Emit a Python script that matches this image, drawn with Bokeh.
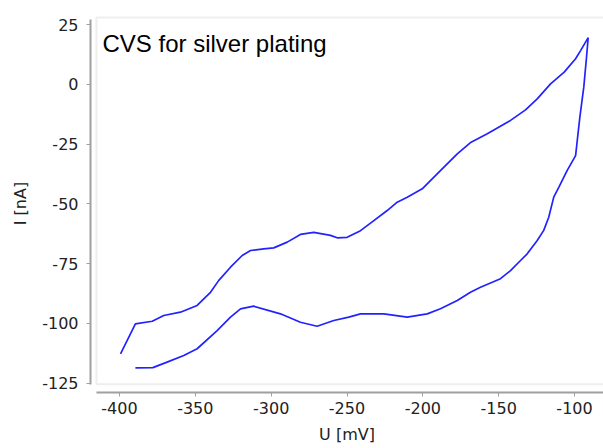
from bokeh.plotting import figure
from bokeh.models import Range1d, FixedTicker, Label, BoxAnnotation, PrintfTickFormatter
from bokeh.embed import file_html
from bokeh.resources import INLINE

# Cyclic voltammogram: forward (cathodic, lower) branch up to the vertex,
# then the return (upper) branch back to the start potential.
u_forward = [-389.5, -378.0, -368.6, -357.6, -348.8, -335.6, -326.8, -320.2,
             -311.5, -293.9, -280.7, -269.7, -258.7, -248.8, -241.1, -225.7,
             -210.3, -197.1, -188.4, -177.3, -168.6, -162.0, -148.8, -142.2,
             -135.6, -131.2, -124.6, -120.3, -117.0, -113.7, -110.3, -104.9,
             -99.3, -98.2, -96.5, -93.9, -92.1, -91.0]
i_forward = [-118.6, -118.5, -116.2, -113.4, -110.6, -103.0, -97.4, -93.9,
             -92.8, -96.0, -99.5, -101.2, -98.8, -97.4, -96.0, -96.0,
             -97.4, -96.0, -93.9, -90.4, -87.0, -84.9, -81.3, -77.9,
             -73.7, -70.9, -65.3, -61.1, -55.6, -47.2, -43.0, -36.1,
             -29.8, -23.5, -13.8, -1.2, 11.3, 19.5]

u_return = [-96.0, -99.3, -106.8, -115.8, -124.6, -132.3, -142.2, -157.5,
            -168.2, -177.3, -188.4, -200.4, -210.3, -216.9, -223.5, -232.3,
            -241.1, -249.9, -256.5, -260.9, -271.9, -280.7, -289.4, -298.3,
            -304.9, -313.6, -319.1, -326.8, -334.5, -340.0, -348.8, -359.8,
            -370.8, -378.4, -389.5, -399.3]
i_return = [14.1, 10.7, 5.1, 0.2, -6.1, -10.7, -15.1, -20.7,
            -24.2, -29.1, -36.1, -43.7, -47.2, -49.3, -52.8, -57.0,
            -61.2, -64.0, -64.2, -63.2, -61.9, -62.8, -66.0, -68.4,
            -68.8, -69.5, -71.6, -76.5, -82.0, -87.0, -92.5, -95.3,
            -96.7, -99.1, -100.2, -112.7]

x_ticks = [-400, -350, -300, -250, -200, -150, -100]
y_ticks = [-125, -100, -75, -50, -25, 0, 25]

title_text = "CVS for silver plating"
x_label = "U [mV]"
y_label = "I [nA]"

u_all = u_forward + u_return
i_all = i_forward + i_return

p = figure(width=603, height=448,
           x_range=Range1d(-419.1, -80.9), y_range=Range1d(-128.9, 29.2),
           output_backend="svg", toolbar_location=None,
           min_border_left=90, min_border_right=0,
           min_border_top=14, min_border_bottom=56)
p.outline_line_color = None
p.xgrid.visible = False
p.ygrid.visible = False
p.background_fill_color = "white"
p.border_fill_color = "white"

# light grey plot box, detached from the axes
p.add_layout(BoxAnnotation(left=-415.2, right=-70, top=27.9, bottom=-125.5,
                           fill_alpha=0, fill_color=None,
                           line_color="#c8c8c8", line_width=2))

p.line(u_all, i_all, line_color="#2222ff", line_width=1.7)

axis_grey = "#a0a0a0"
for ax in (p.xaxis[0], p.yaxis[0]):
    ax.axis_line_color = axis_grey
    ax.axis_line_width = 2
    ax.major_tick_line_color = axis_grey
    ax.major_tick_line_width = 1
    ax.major_tick_out = 4
    ax.major_tick_in = 0
    ax.minor_tick_out = 0
    ax.minor_tick_in = 0
    ax.major_label_text_font = "DejaVu Sans"
    ax.major_label_text_font_size = "16px"
    ax.major_label_text_color = "#222222"
    ax.axis_label_text_font = "DejaVu Sans"
    ax.axis_label_text_font_size = "16px"
    ax.axis_label_text_font_style = "normal"
    ax.axis_label_text_color = "#222222"
    ax.formatter = PrintfTickFormatter(format="%d")

p.xaxis.ticker = FixedTicker(ticks=x_ticks)
p.yaxis.ticker = FixedTicker(ticks=y_ticks)
p.xaxis.axis_label = x_label
p.yaxis.axis_label = y_label
p.xaxis.bounds = (-415.2, -80.9)
p.yaxis.bounds = (-125.5, 27.3)
p.xaxis.major_label_standoff = 5
p.yaxis.major_label_standoff = 8
p.xaxis.axis_label_standoff = 8
p.yaxis.axis_label_standoff = 9

p.add_layout(Label(x=12, y=349, x_units="screen", y_units="screen",
                   text=title_text, text_font="Liberation Sans",
                   text_font_size="24px", text_color="black",
                   text_baseline="alphabetic"))

open("out.html", "w").write(file_html(p, INLINE))
